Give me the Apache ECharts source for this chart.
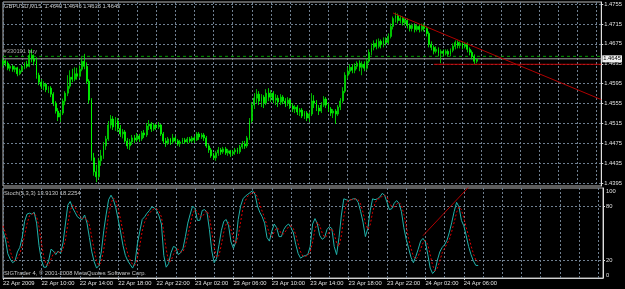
<!DOCTYPE html>
<html><head><meta charset="utf-8">
<script src="https://cdn.jsdelivr.net/npm/echarts@6/dist/echarts.min.js"></script>
<style>html,body{margin:0;padding:0;background:#000;}#c{width:625px;height:289px;}</style>
</head><body><div id="c"></div>
<script>
// ---------- data ----------
const headerText = 'GBPUSD,M15  1.4640 1.4645 1.4636 1.4645';
const stochHeader = 'Stoch(5,3,3) 13.9130 18.2254';
const footerText = 'SIGTrader 4, \u00a9 2001-2008 MetaQuotes Software Corp.';
const totalSlots = 251;          // bars + empty chart-shift area
const barsPerLabel = 16;
const barsPerGrid = 8;
const timeTickLabels = ['22 Apr 2009','22 Apr 10:00','22 Apr 14:00','22 Apr 18:00','22 Apr 22:00',
  '23 Apr 02:00','23 Apr 06:00','23 Apr 10:00','23 Apr 14:00','23 Apr 18:00','23 Apr 22:00',
  '24 Apr 02:00','24 Apr 06:00'];
const priceTicks = [1.4395,1.4435,1.4475,1.4515,1.4555,1.4595,1.4635,1.4675,1.4715,1.4755];
const priceRange = [1.43894, 1.47592];
const stochTicks = [0,20,80,100];
const stochLevels = [20,80];
// [open, close, low, high]
const candles = [
[1.4633,1.4641,1.4628,1.4646],[1.4641,1.4636,1.4630,1.4644],[1.4636,1.4626,1.4622,1.4640],[1.4626,1.4630,1.4620,1.4634],
[1.4630,1.4624,1.4619,1.4633],[1.4624,1.4627,1.4618,1.4631],[1.4627,1.4615,1.4610,1.4629],[1.4615,1.4621,1.4612,1.4625],
[1.4621,1.4629,1.4618,1.4633],[1.4629,1.4634,1.4624,1.4638],[1.4634,1.4630,1.4626,1.4641],[1.4630,1.4652,1.4628,1.4662],
[1.4652,1.4646,1.4638,1.4665],[1.4646,1.4640,1.4632,1.4654],[1.4640,1.4612,1.4605,1.4648],[1.4612,1.4598,1.4592,1.4617],
[1.4598,1.4590,1.4584,1.4604],[1.4590,1.4594,1.4582,1.4600],[1.4594,1.4583,1.4578,1.4597],[1.4583,1.4586,1.4576,1.4590],
[1.4586,1.4574,1.4568,1.4590],[1.4574,1.4556,1.4550,1.4578],[1.4556,1.4540,1.4535,1.4560],[1.4540,1.4528,1.4520,1.4546],
[1.4528,1.4536,1.4518,1.4540],[1.4536,1.4560,1.4532,1.4565],[1.4560,1.4576,1.4552,1.4580],[1.4576,1.4590,1.4570,1.4612],
[1.4590,1.4608,1.4585,1.4622],[1.4608,1.4604,1.4598,1.4625],[1.4604,1.4615,1.4600,1.4628],[1.4615,1.4610,1.4603,1.4627],
[1.4610,1.4624,1.4606,1.4632],[1.4624,1.4640,1.4620,1.4648],[1.4640,1.4630,1.4624,1.4655],[1.4630,1.4600,1.4595,1.4638],
[1.4600,1.4562,1.4555,1.4604],[1.4562,1.4446,1.4440,1.4566],[1.4446,1.4418,1.4410,1.4456],[1.4418,1.4408,1.4397,1.4432],
[1.4408,1.4440,1.4404,1.4446],[1.4440,1.4450,1.4430,1.4462],[1.4450,1.4470,1.4444,1.4478],[1.4470,1.4484,1.4462,1.4490],
[1.4484,1.4512,1.4480,1.4520],[1.4512,1.4524,1.4505,1.4532],[1.4524,1.4508,1.4502,1.4530],[1.4508,1.4520,1.4500,1.4528],
[1.4520,1.4505,1.4498,1.4526],[1.4505,1.4494,1.4488,1.4512],[1.4494,1.4498,1.4485,1.4504],[1.4498,1.4480,1.4476,1.4502],
[1.4480,1.4470,1.4464,1.4486],[1.4470,1.4478,1.4462,1.4484],[1.4478,1.4486,1.4472,1.4492],[1.4486,1.4482,1.4476,1.4492],
[1.4482,1.4490,1.4478,1.4496],[1.4490,1.4484,1.4478,1.4494],[1.4484,1.4496,1.4480,1.4500],[1.4496,1.4492,1.4486,1.4502],
[1.4492,1.4510,1.4488,1.4516],[1.4510,1.4514,1.4502,1.4522],[1.4514,1.4504,1.4498,1.4518],[1.4504,1.4512,1.4500,1.4516],
[1.4512,1.4508,1.4502,1.4514],[1.4508,1.4512,1.4504,1.4518],[1.4512,1.4494,1.4490,1.4514],[1.4494,1.4480,1.4474,1.4498],
[1.4480,1.4476,1.4468,1.4486],[1.4476,1.4484,1.4472,1.4488],[1.4484,1.4478,1.4472,1.4486],[1.4478,1.4486,1.4474,1.4494],
[1.4486,1.4480,1.4476,1.4490],[1.4480,1.4474,1.4470,1.4484],[1.4474,1.4478,1.4468,1.4482],[1.4478,1.4482,1.4474,1.4486],
[1.4482,1.4478,1.4474,1.4486],[1.4478,1.4484,1.4474,1.4488],[1.4484,1.4480,1.4476,1.4488],[1.4480,1.4486,1.4476,1.4490],
[1.4486,1.4482,1.4476,1.4490],[1.4482,1.4494,1.4480,1.4498],[1.4494,1.4488,1.4482,1.4498],[1.4488,1.4492,1.4484,1.4496],
[1.4492,1.4486,1.4480,1.4496],[1.4486,1.4470,1.4466,1.4490],[1.4470,1.4462,1.4456,1.4474],[1.4462,1.4450,1.4446,1.4466],
[1.4450,1.4446,1.4442,1.4456],[1.4446,1.4456,1.4440,1.4460],[1.4456,1.4462,1.4450,1.4468],[1.4462,1.4458,1.4452,1.4466],
[1.4458,1.4464,1.4454,1.4468],[1.4464,1.4456,1.4452,1.4468],[1.4456,1.4460,1.4450,1.4464],[1.4460,1.4454,1.4448,1.4462],
[1.4454,1.4458,1.4450,1.4462],[1.4458,1.4462,1.4452,1.4466],[1.4462,1.4458,1.4454,1.4466],[1.4458,1.4468,1.4454,1.4472],
[1.4468,1.4474,1.4464,1.4480],[1.4474,1.4470,1.4464,1.4480],[1.4470,1.4486,1.4466,1.4490],[1.4486,1.4520,1.4482,1.4526],
[1.4520,1.4552,1.4516,1.4558],[1.4552,1.4566,1.4544,1.4576],[1.4566,1.4574,1.4556,1.4584],[1.4574,1.4560,1.4552,1.4580],
[1.4560,1.4568,1.4548,1.4574],[1.4568,1.4556,1.4546,1.4572],[1.4556,1.4576,1.4552,1.4584],[1.4576,1.4568,1.4560,1.4586],
[1.4568,1.4576,1.4558,1.4582],[1.4576,1.4562,1.4556,1.4580],[1.4562,1.4566,1.4552,1.4574],[1.4566,1.4558,1.4548,1.4572],
[1.4558,1.4568,1.4552,1.4574],[1.4568,1.4560,1.4554,1.4572],[1.4560,1.4556,1.4548,1.4566],[1.4556,1.4562,1.4550,1.4568],
[1.4562,1.4550,1.4544,1.4566],[1.4550,1.4544,1.4538,1.4556],[1.4544,1.4548,1.4536,1.4552],[1.4548,1.4538,1.4532,1.4552],
[1.4538,1.4542,1.4530,1.4546],[1.4542,1.4530,1.4526,1.4546],[1.4530,1.4536,1.4524,1.4540],[1.4536,1.4526,1.4520,1.4540],
[1.4526,1.4534,1.4518,1.4538],[1.4534,1.4560,1.4530,1.4576],[1.4560,1.4556,1.4546,1.4572],[1.4556,1.4546,1.4540,1.4562],
[1.4546,1.4540,1.4532,1.4552],[1.4540,1.4552,1.4536,1.4558],[1.4552,1.4564,1.4548,1.4570],[1.4564,1.4552,1.4546,1.4568],
[1.4552,1.4544,1.4538,1.4556],[1.4544,1.4536,1.4530,1.4548],[1.4536,1.4540,1.4526,1.4544],[1.4540,1.4534,1.4514,1.4544],
[1.4534,1.4548,1.4530,1.4552],[1.4548,1.4560,1.4542,1.4566],[1.4560,1.4580,1.4556,1.4588],[1.4580,1.4612,1.4576,1.4618],
[1.4612,1.4620,1.4604,1.4628],[1.4620,1.4628,1.4614,1.4634],[1.4628,1.4622,1.4616,1.4634],[1.4622,1.4630,1.4616,1.4636],
[1.4630,1.4636,1.4624,1.4640],[1.4636,1.4628,1.4620,1.4642],[1.4628,1.4634,1.4612,1.4640],[1.4634,1.4626,1.4620,1.4640],
[1.4626,1.4640,1.4622,1.4646],[1.4640,1.4658,1.4636,1.4664],[1.4658,1.4668,1.4652,1.4676],[1.4668,1.4676,1.4662,1.4682],
[1.4676,1.4670,1.4664,1.4684],[1.4670,1.4680,1.4666,1.4686],[1.4680,1.4674,1.4666,1.4684],[1.4674,1.4682,1.4668,1.4688],
[1.4682,1.4678,1.4672,1.4688],[1.4678,1.4690,1.4674,1.4696],[1.4690,1.4710,1.4686,1.4716],[1.4710,1.4726,1.4704,1.4730],
[1.4726,1.4732,1.4718,1.4738],[1.4732,1.4722,1.4716,1.4736],[1.4722,1.4726,1.4716,1.4732],[1.4726,1.4718,1.4712,1.4730],
[1.4718,1.4722,1.4712,1.4726],[1.4722,1.4712,1.4706,1.4726],[1.4712,1.4706,1.4700,1.4716],[1.4706,1.4712,1.4700,1.4716],
[1.4712,1.4704,1.4698,1.4716],[1.4704,1.4710,1.4700,1.4714],[1.4710,1.4704,1.4698,1.4714],[1.4704,1.4712,1.4700,1.4716],
[1.4712,1.4706,1.4700,1.4716],[1.4706,1.4696,1.4690,1.4710],[1.4696,1.4674,1.4668,1.4700],[1.4674,1.4668,1.4662,1.4680],
[1.4668,1.4660,1.4654,1.4672],[1.4660,1.4664,1.4656,1.4670],[1.4664,1.4656,1.4650,1.4668],[1.4656,1.4660,1.4636,1.4664],
[1.4660,1.4656,1.4650,1.4664],[1.4656,1.4660,1.4652,1.4664],[1.4660,1.4654,1.4650,1.4664],[1.4654,1.4662,1.4650,1.4666],
[1.4662,1.4670,1.4658,1.4676],[1.4670,1.4678,1.4664,1.4682],[1.4678,1.4672,1.4666,1.4682],[1.4672,1.4676,1.4666,1.4680],
[1.4676,1.4670,1.4664,1.4680],[1.4670,1.4674,1.4666,1.4678],[1.4674,1.4664,1.4658,1.4678],[1.4664,1.4658,1.4652,1.4668],
[1.4658,1.4650,1.4644,1.4662],[1.4650,1.4640,1.4634,1.4654],[1.4640,1.4645,1.4636,1.4645]
];
const stochK = [52,43,27,21,17,19,29,34,45,63,71,72,71,73,61,36,20,12,12,19,32,30,26,30,27,39,60,81,85,78,
73,68,66,65,70,61,45,29,18,11,14,30,53,71,87,92,87,78,65,51,36,25,19,15,11,17,38,52,65,68,
72,75,79,78,75,69,60,25,12,16,28,35,34,26,28,33,46,61,71,80,77,64,64,75,76,73,54,30,17,22,
37,53,63,65,58,40,33,40,65,80,88,91,93,95,97,93,80,73,68,61,45,41,52,60,56,46,46,54,58,60,
56,50,37,27,22,24,25,26,35,60,66,60,47,43,45,54,57,55,35,26,45,70,88,87,86,87,88,88,84,74,
62,46,55,75,88,87,88,90,94,92,84,76,77,83,86,83,74,56,43,33,23,17,24,32,41,44,40,26,11,5,
8,20,29,34,37,42,51,62,74,84,79,64,58,47,35,26,19,14,13.913];
const stochD = [58,50,41,30,22,19,22,27,36,47,60,69,71,72,68,57,39,23,15,14,21,27,29,29,28,32,42,60,75,81,
79,73,69,66,67,65,59,45,31,19,14,18,32,51,70,83,89,86,77,65,51,37,27,20,15,14,22,36,52,62,
68,72,75,77,77,74,68,51,32,18,19,26,32,32,29,29,36,47,59,71,76,74,68,68,72,75,68,52,34,23,
25,37,51,60,62,54,44,38,46,62,78,86,91,93,95,95,90,82,74,67,58,49,46,51,56,54,49,49,53,57,
58,55,48,38,29,24,24,25,29,40,54,62,58,50,45,47,52,55,49,39,35,47,68,82,87,87,87,88,87,82,
73,61,54,59,73,83,88,88,91,92,90,84,79,79,82,84,81,71,58,44,33,24,21,24,32,39,42,37,26,14,
8,11,19,28,33,38,43,52,62,73,79,76,67,56,47,36,27,20,18.2254];
const bidLine = [[0,1.4645],[250,1.4645]];
const buyLine = [[0,1.4650],[250,1.4650]];
const buyLabel = '#330191 buy';
const supportLine = [[180,1.4634],[250,1.4634]];
const trendMain = [[163,1.4737],[250,1.4563]];
const trendStoch = [[175,47],[194,101]];

// ---------- chart ----------
const categories = Array.from({length: totalSlots}, (_, i) => String(i));
const FONT = 'Liberation Sans';
const FS = 5.8;
const gridLine = {show: true, lineStyle: {color: '#6f7f90', type: [2, 2], width: 1}};
const labelIdx = (i) => i % barsPerLabel === 0 && (i / barsPerLabel) < timeTickLabels.length;

const chart = echarts.init(document.getElementById('c'), null, {renderer: 'canvas'});
chart.setOption({
  animation: false,
  backgroundColor: '#000000',
  grid: [
    {left: 3, right: 22, top: 2, height: 184, show: true, borderColor: '#b8b8b8', borderWidth: 1, backgroundColor: '#000'},
    {left: 3, right: 22, top: 188, height: 90, show: true, borderColor: '#b8b8b8', borderWidth: 1, backgroundColor: '#000'}
  ],
  xAxis: [
    {type: 'category', gridIndex: 0, data: categories, boundaryGap: false,
     axisLine: {show: false}, axisTick: {show: false}, axisLabel: {show: false},
     splitLine: Object.assign({interval: (i) => i % barsPerGrid === 0}, gridLine)},
    {type: 'category', gridIndex: 1, data: categories, boundaryGap: false,
     axisLine: {show: true, lineStyle: {color: '#d0d0d0'}},
     axisTick: {show: true, length: 2, interval: (i) => labelIdx(i), lineStyle: {color: '#d0d0d0'}},
     axisLabel: {show: true, interval: (i) => labelIdx(i), align: 'left', margin: 2,
       color: '#e0e0e0', fontFamily: FONT, fontSize: FS,
       formatter: (v, i) => labelIdx(i) ? timeTickLabels[i / barsPerLabel] : ''},
     splitLine: Object.assign({interval: (i) => i % barsPerGrid === 0}, gridLine)}
  ],
  yAxis: [
    {type: 'value', gridIndex: 0, position: 'right', min: priceRange[0], max: priceRange[1], scale: true,
     axisLine: {show: true, lineStyle: {color: '#e0e0e0'}},
     axisTick: {show: true, length: 2, customValues: priceTicks, lineStyle: {color: '#e0e0e0'}},
     axisLabel: {customValues: priceTicks, margin: 3, color: '#e0e0e0', fontFamily: FONT, fontSize: FS,
       formatter: (v) => v.toFixed(4)},
     splitLine: gridLine},
    {type: 'value', gridIndex: 1, position: 'right', min: 0, max: 100,
     axisLine: {show: true, lineStyle: {color: '#e0e0e0'}},
     axisTick: {show: true, length: 2, customValues: stochLevels, lineStyle: {color: '#e0e0e0'}},
     axisLabel: {customValues: stochTicks, margin: 3, color: '#e0e0e0', fontFamily: FONT, fontSize: FS,
       verticalAlignMinLabel: 'bottom', verticalAlignMaxLabel: 'top',
       formatter: (v) => String(v)},
     splitLine: gridLine}
  ],
  series: [
    {type: 'line', xAxisIndex: 0, yAxisIndex: 0, data: buyLine, symbol: 'none', z: 1,
     lineStyle: {color: '#00a000', type: [3, 3], width: 1}},
    {type: 'scatter', xAxisIndex: 0, yAxisIndex: 0, data: [buyLine[0]], symbolSize: 1, z: 4,
     itemStyle: {color: 'rgba(0,0,0,0)'},
     label: {show: true, position: [1, -7], formatter: buyLabel, color: '#c8c8c8', fontFamily: FONT, fontSize: FS}},
    {type: 'line', xAxisIndex: 0, yAxisIndex: 0, data: bidLine, symbol: 'none', z: 1,
     lineStyle: {color: '#a0a0a0', width: 1},
     endLabel: {show: true, distance: 1, formatter: () => bidLine[1][1].toFixed(4),
       color: '#000', backgroundColor: '#f0f0f0', padding: [1, 1, 0, 1], fontFamily: FONT, fontSize: FS}},
    {type: 'candlestick', xAxisIndex: 0, yAxisIndex: 0, data: candles, barWidth: 1.4, z: 2,
     itemStyle: {color: '#00a000', color0: '#00ff00', borderColor: '#00e000', borderColor0: '#00ff00', borderWidth: 0.8}},
    {type: 'line', xAxisIndex: 0, yAxisIndex: 0, data: supportLine, symbol: 'none', z: 3,
     lineStyle: {color: '#c00000', width: 1}},
    {type: 'line', xAxisIndex: 0, yAxisIndex: 0, data: trendMain, symbol: 'none', z: 3,
     lineStyle: {color: '#b00000', width: 1}},
    {type: 'line', xAxisIndex: 1, yAxisIndex: 1, data: stochK, symbol: 'none',
     lineStyle: {color: '#20b2aa', width: 1}},
    {type: 'line', xAxisIndex: 1, yAxisIndex: 1, data: stochD, symbol: 'none',
     lineStyle: {color: '#e00000', width: 1, type: [2, 2]}},
    {type: 'line', xAxisIndex: 1, yAxisIndex: 1, data: trendStoch, symbol: 'none', clip: true,
     lineStyle: {color: '#b00000', width: 1}}
  ],
  graphic: [
    {type: 'text', left: 4, top: 3, style: {text: headerText, fill: '#c8c8c8', font: FS + 'px "' + FONT + '"'}},
    {type: 'text', left: 4, top: 190, style: {text: stochHeader, fill: '#c8c8c8', font: FS + 'px "' + FONT + '"'}},
    {type: 'text', left: 4, top: 270, style: {text: footerText, fill: '#c8c8c8', font: FS + 'px "' + FONT + '"'}}
  ]
});
</script></body></html>
